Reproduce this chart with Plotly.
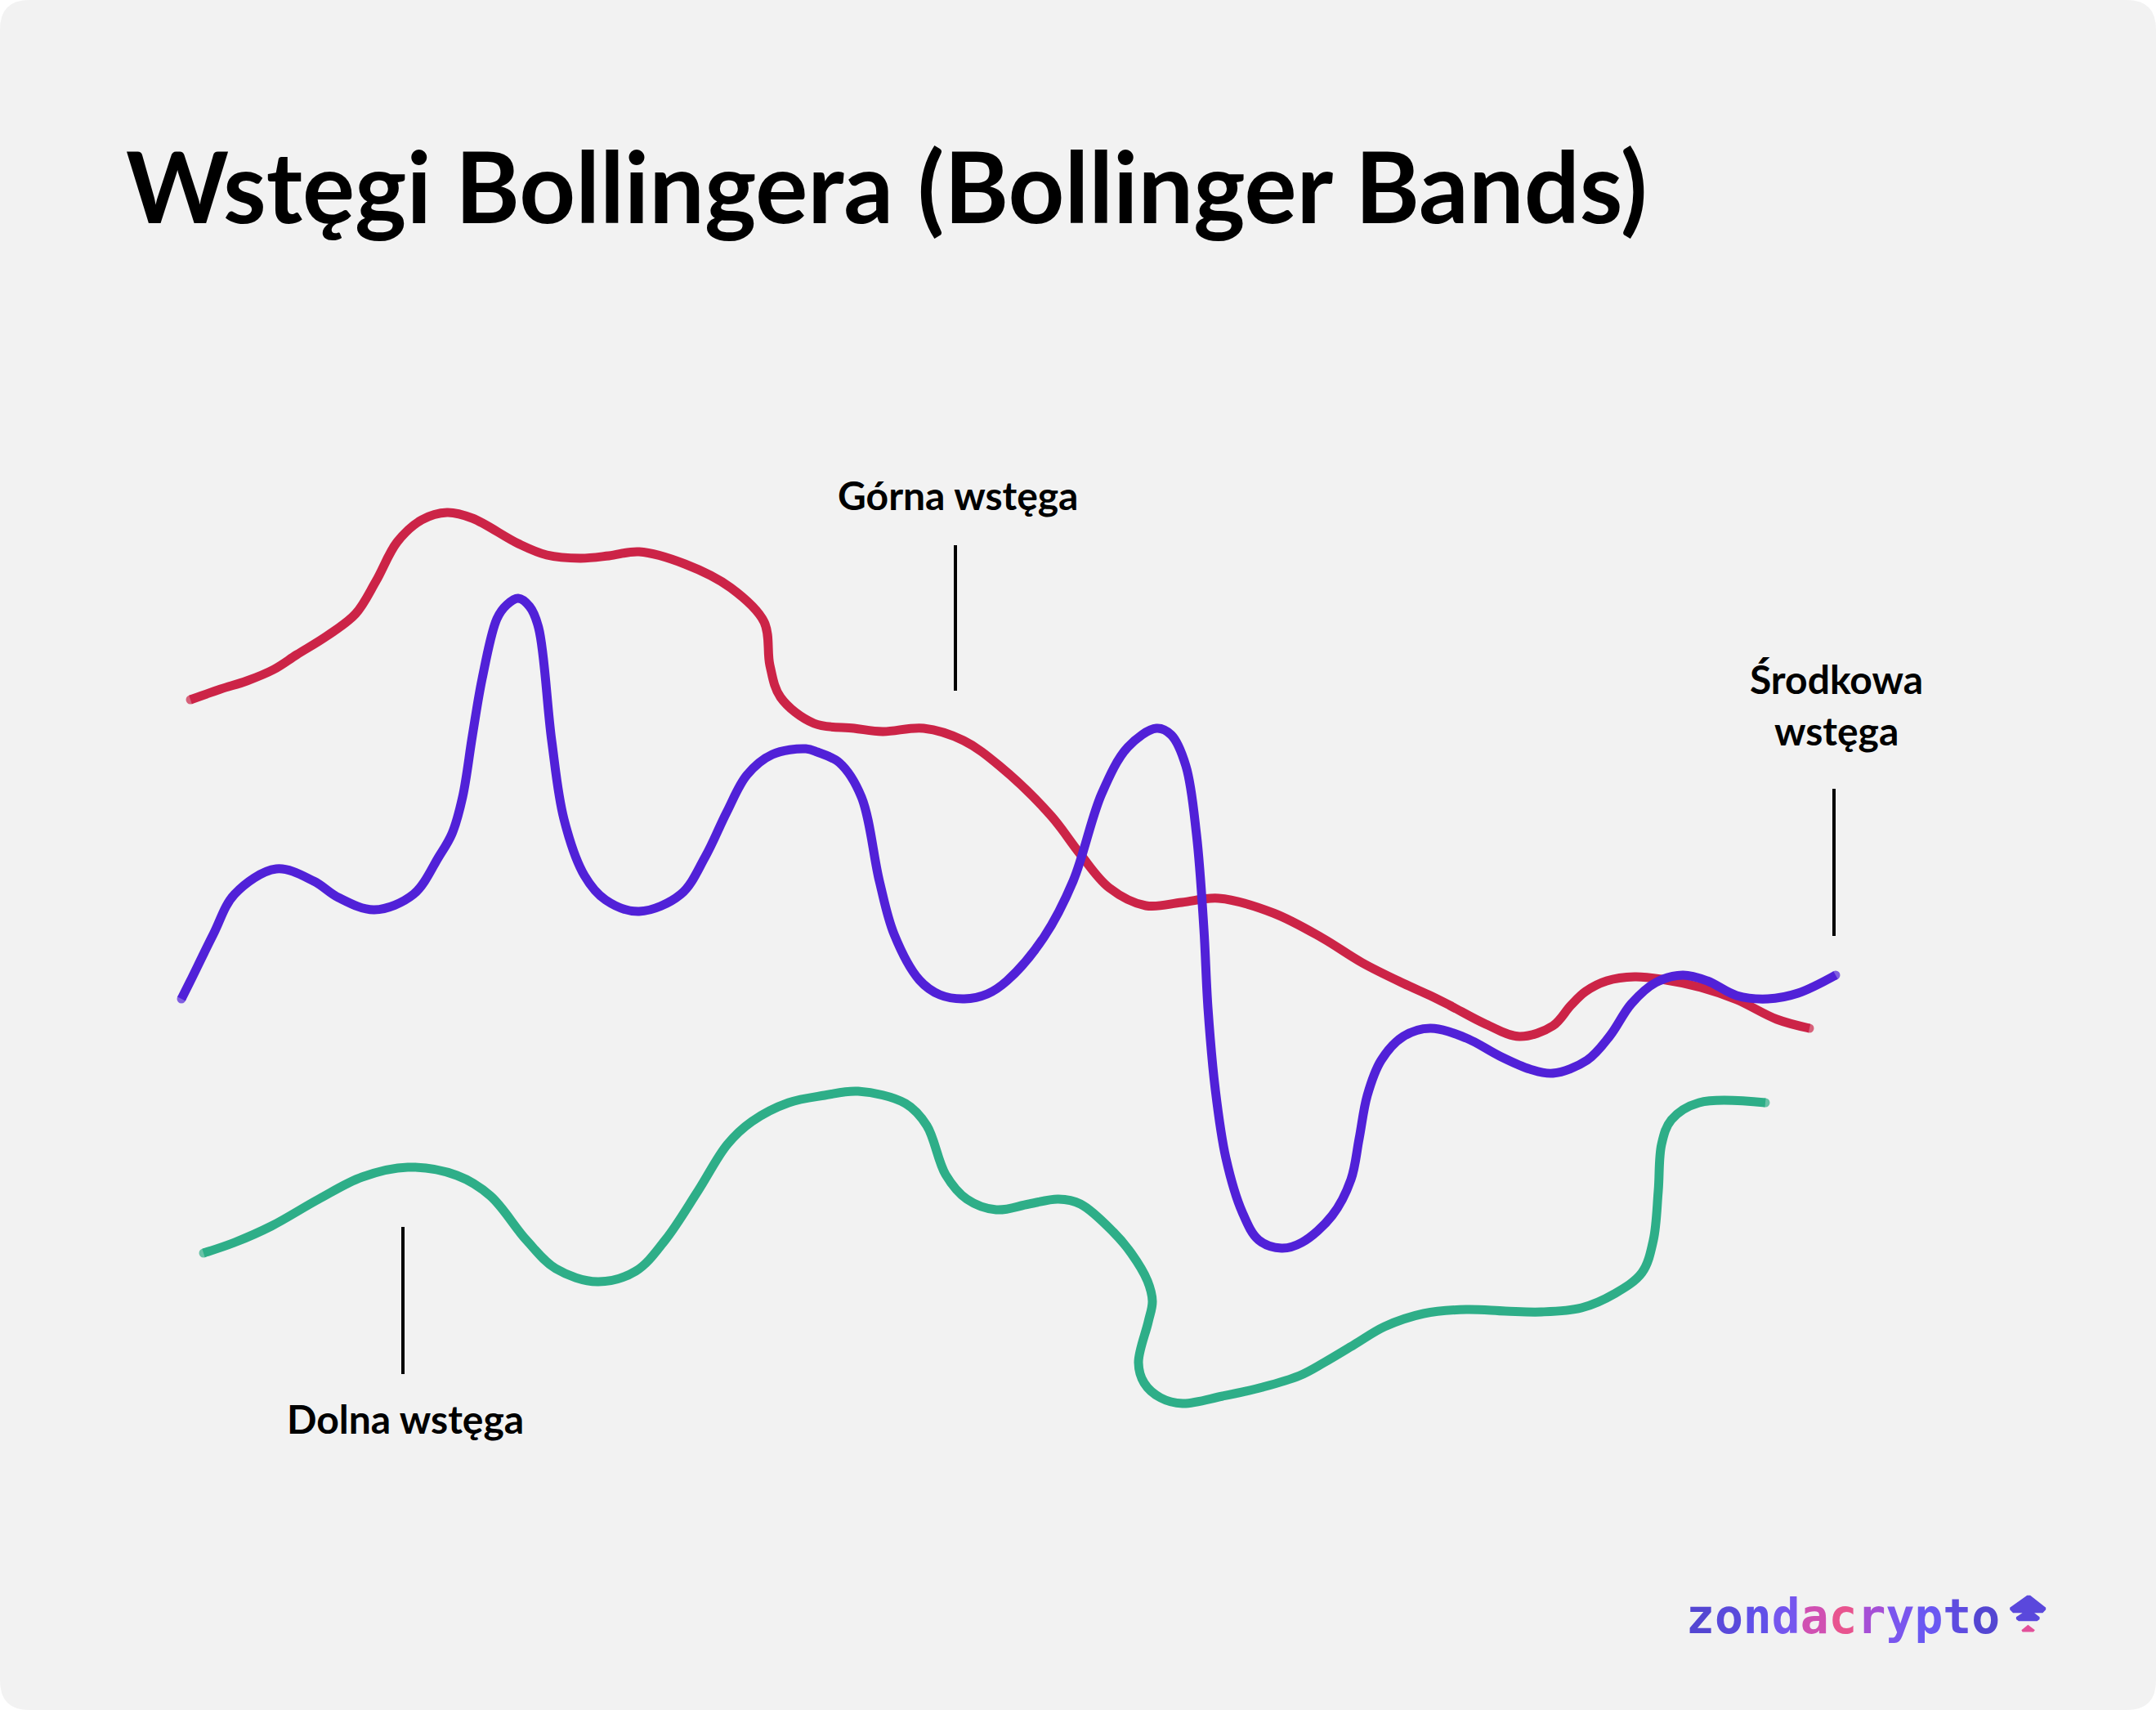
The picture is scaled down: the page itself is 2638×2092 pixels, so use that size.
import plotly.graph_objects as go

W, H = 2638, 2092

# ---- data (time position, band level on the drawing's level scale) ----
upper_t = [233, 270, 302, 335, 363, 400, 435, 460, 486, 516, 547, 578, 634, 669, 710, 745, 782, 838, 894, 935,
           942, 955, 996, 1045, 1080, 1130, 1179, 1223, 1286, 1321, 1357, 1402, 1446, 1491, 1558, 1617, 1667,
           1717, 1750, 1774, 1818, 1859, 1900, 1922, 1940, 1966, 2000, 2033, 2081, 2125, 2174, 2214]
upper_v = [856, 843, 833, 819, 801, 778, 751, 711, 663, 636, 627, 634, 665, 679, 683, 680, 675, 690, 719, 761,
           814, 853, 885, 891, 895, 891, 906, 937, 998, 1044, 1086, 1108, 1104, 1099, 1117, 1147, 1178,
           1203, 1218, 1230, 1253, 1268, 1255, 1230, 1213, 1200, 1195, 1198, 1208, 1223, 1247, 1258]

middle_t = [222, 233, 261, 287, 338, 384, 414, 458, 506, 537, 553, 566, 578, 590, 608, 620, 634, 648, 659, 675,
            690, 715, 741, 782, 833, 863, 889, 914, 945, 986, 1000, 1027, 1054, 1076, 1094, 1125, 1150, 1180,
            1208, 1232, 1277, 1313, 1348, 1380, 1415, 1433, 1451, 1464, 1473, 1478, 1487, 1500, 1520, 1540,
            1568, 1593, 1630, 1653, 1663, 1673, 1690, 1717, 1750, 1794, 1835, 1872, 1900, 1942, 1970, 1996,
            2026, 2059, 2089, 2125, 2163, 2200, 2246]
middle_v = [1222, 1200, 1143, 1094, 1063, 1078, 1098, 1113, 1094, 1048, 1020, 975, 900, 830, 757, 740, 732, 742,
            768, 906, 1002, 1071, 1101, 1115, 1094, 1048, 994, 948, 923, 916, 920, 933, 975, 1078, 1143, 1199,
            1217, 1222, 1216, 1200, 1147, 1078, 971, 914, 891, 899, 937, 1021, 1136, 1233, 1333, 1417, 1483,
            1517, 1527, 1520, 1487, 1443, 1393, 1340, 1297, 1268, 1258, 1270, 1292, 1308, 1313, 1297, 1267,
            1228, 1202, 1193, 1200, 1218, 1222, 1215, 1193]

lower_t = [249, 287, 332, 390, 443, 499, 559, 600, 644, 680, 731, 778, 814, 854, 890, 920, 965, 1009, 1050,
           1108, 1134, 1157, 1183, 1219, 1259, 1295, 1322, 1362, 1384, 1404, 1410, 1405, 1393, 1400, 1420,
           1447, 1496, 1545, 1590, 1620, 1657, 1694, 1742, 1794, 1842, 1886, 1935, 1975, 2009, 2023, 2029,
           2033, 2045, 2079, 2160]
lower_v = [1533, 1520, 1500, 1467, 1440, 1428, 1438, 1463, 1517, 1552, 1568, 1555, 1517, 1457, 1400, 1372,
           1349, 1340, 1335, 1350, 1377, 1437, 1467, 1480, 1473, 1467, 1473, 1507, 1533, 1567, 1592, 1617,
           1667, 1692, 1710, 1717, 1708, 1697, 1683, 1667, 1645, 1623, 1607, 1602, 1604, 1605, 1600, 1583,
           1557, 1517, 1457, 1400, 1370, 1349, 1349]

title_text = "Wstęgi Bollingera (Bollinger Bands)"
labels = ["Górna wstęga", "Środkowa", "wstęga", "Dolna wstęga"]
label_t = [1172, 2247, 2247, 496]
label_v = [605, 830, 893, 1735]

pointer_t = [[1169, 1169], [2244, 2244], [493, 493]]
pointer_v = [[667, 845], [965, 1145], [1501, 1681]]

RED, BLUE, GREEN = "#CC2447", "#5121D8", "#2EAE88"
BG = "#F2F2F2"

fig = go.Figure()


def band(t, v, color, name):
    sizes = [11] + [0] * (len(t) - 2) + [11]
    fig.add_trace(go.Scatter(
        x=t, y=v, mode="lines+markers", name=name,
        line=dict(color=color, width=11, shape="spline", smoothing=1.0),
        marker=dict(size=sizes, color=color, line=dict(width=0)),
        hoverinfo="skip", showlegend=False))


band(upper_t, upper_v, RED, "Górna wstęga")
band(middle_t, middle_v, BLUE, "Środkowa wstęga")
band(lower_t, lower_v, GREEN, "Dolna wstęga")

for pt, pv in zip(pointer_t, pointer_v):
    fig.add_trace(go.Scatter(x=pt, y=pv, mode="lines", line=dict(color="#000000", width=4),
                             hoverinfo="skip", showlegend=False))

# card background with rounded corners
r = 36
card = (f"M {r},0 L {W - r},0 Q {W},0 {W},{r} L {W},{H - r} Q {W},{H} {W - r},{H} "
        f"L {r},{H} Q 0,{H} 0,{H - r} L 0,{r} Q 0,0 {r},0 Z")
shapes = [dict(type="path", path=card, xref="x", yref="y", fillcolor=BG, line=dict(width=0), layer="below")]

# logo icon
icon_top = ("M 2459.2,1966.7 L 2480.3,1951.7 L 2484.1,1951.7 L 2503.2,1966.7 L 2503.2,1969.3 L 2499.4,1973.3 "
            "L 2489.1,1973.3 L 2495.6,1978.3 L 2495.6,1981 L 2492.5,1983.3 L 2470,1983.3 L 2466.9,1981 "
            "L 2466.9,1978.3 L 2474.6,1973.3 L 2463.1,1973.3 L 2459.2,1969.3 Z")
icon_low = "M 2473.4,1994.3 L 2481.4,1987.7 L 2489.9,1994.3 L 2488,1996.5 L 2474.6,1996.5 Z"
shapes.append(dict(type="path", path=icon_top, xref="x", yref="y", fillcolor="#5A48DC", line=dict(width=0)))
shapes.append(dict(type="path", path=icon_low, xref="x", yref="y", fillcolor="#E2509A", line=dict(width=0)))

annotations = [dict(x=152, y=227, xref="x", yref="y", text=f"<b>{title_text}</b>", showarrow=False,
                    xanchor="left", yanchor="middle",
                    font=dict(family="Lato", size=120, color="#000000"))]
for txt, t, v in zip(labels, label_t, label_v):
    annotations.append(dict(x=t, y=v, xref="x", yref="y", text=f"<b>{txt}</b>", showarrow=False,
                            xanchor="center", yanchor="middle",
                            font=dict(family="Lato", size=48, color="#000000")))

logo_letters = list("zondacrypto")
logo_colors = ["#5446D2", "#5A4ADB", "#6150E8", "#7556EE", "#D050B2", "#E8548F",
               "#A64FD6", "#7A56EE", "#6A58F2", "#5E4CE0", "#5446D2"]
logo_html = "".join(f'<span style="color:{c}">{ch}</span>' for ch, c in zip(logo_letters, logo_colors))
annotations.append(dict(x=2061, y=1978, xref="x", yref="y", text=f"<b>{logo_html}</b>", showarrow=False,
                        xanchor="left", yanchor="middle",
                        font=dict(family="DejaVu Sans Mono", size=58, color="#5446D2")))

fig.update_layout(
    width=W, height=H, margin=dict(l=0, r=0, t=0, b=0),
    paper_bgcolor="#FFFFFF", plot_bgcolor="rgba(0,0,0,0)",
    xaxis=dict(range=[0, W], visible=False, fixedrange=True),
    yaxis=dict(range=[H, 0], visible=False, fixedrange=True),
    shapes=shapes, annotations=annotations,
)

fig.write_html("out.html", config={"displayModeBar": False},
               post_script="document.body.style.margin='0';")
